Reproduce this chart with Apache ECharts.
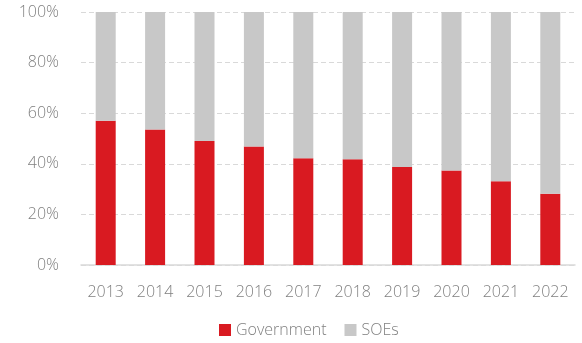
<!DOCTYPE html>
<html><head><meta charset="utf-8">
<script src="https://cdn.jsdelivr.net/npm/echarts@6/dist/echarts.min.js"></script>
<style>html,body{margin:0;padding:0;background:#fff}#c{width:582px;height:343px}</style>
</head><body><div id="c"></div>
<script>
const categories = ['2013','2014','2015','2016','2017','2018','2019','2020','2021','2022'];
const government = [57, 53.6, 49, 46.8, 42.2, 41.8, 38.7, 37.4, 33.1, 28.2];
const soes = [43, 46.4, 51, 53.2, 57.8, 58.2, 61.3, 62.6, 66.9, 71.8];
const yTicks = [0, 20, 40, 60, 80, 100];

const chart = echarts.init(document.getElementById('c'), null, {renderer: 'canvas'});
const font = '"Open Sans", sans-serif';
chart.setOption({
  animation: false,
  grid: {left: 81, right: 7, top: 12, bottom: 78},
  legend: {
    bottom: 0, left: 214, itemWidth: 12, itemHeight: 12, itemGap: 18,
    icon: 'rect',
    textStyle: {color: '#808080', fontSize: 16, fontFamily: font, fontWeight: 300},
    data: ['Government', 'SOEs']
  },
  xAxis: {
    type: 'category', data: categories,
    axisLine: {lineStyle: {color: '#d9d9d9', width: 1.5}},
    axisTick: {show: false},
    axisLabel: {color: '#808080', fontSize: 16, fontFamily: font, fontWeight: 300, margin: 19}
  },
  yAxis: {
    type: 'value', min: yTicks[0], max: yTicks[yTicks.length-1], interval: 20,
    axisLine: {show: false}, axisTick: {show: false},
    axisLabel: {color: '#808080', fontSize: 16, fontFamily: font, fontWeight: 300, margin: 22, formatter: '{value}%'},
    splitLine: {lineStyle: {color: '#d9d9d9', type: [5, 3], width: 1.2}}
  },
  series: [
    {name: 'Government', type: 'bar', stack: 'a', data: government, barWidth: 20,
     itemStyle: {color: '#d91a21'}},
    {name: 'SOEs', type: 'bar', stack: 'a', data: soes, barWidth: 20,
     itemStyle: {color: '#c8c8c8'}}
  ]
});
</script></body></html>
